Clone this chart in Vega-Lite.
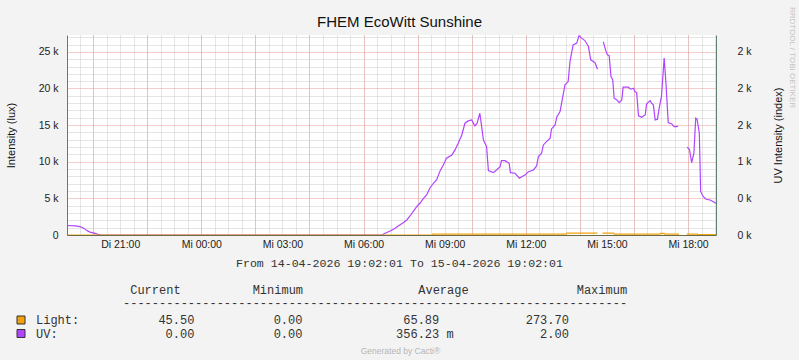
{
  "$schema": "https://vega.github.io/schema/vega-lite/v6.json",
  "width": 649,
  "height": 200,
  "autosize": {"type": "none"},
  "padding": {"left": 67, "top": 35, "right": 83, "bottom": 125},
  "background": "#F3F3F3",
  "title": {"text": "FHEM EcoWitt Sunshine", "font": "Liberation Sans", "fontSize": 15, "fontWeight": "normal", "color": "#111111", "anchor": "middle", "frame": "group", "dx": 8, "dy": 43, "offset": 7, "baseline": "alphabetic"},
  "config": {"view": {"fill": "white", "stroke": null}},
  "data": {"values": [
    {"t":"2026-04-14T19:02","s":"UV","v":1300},
    {"t":"2026-04-14T19:20","s":"UV","v":1250},
    {"t":"2026-04-14T19:31","s":"UV","v":1150},
    {"t":"2026-04-14T19:40","s":"UV","v":900},
    {"t":"2026-04-14T19:46","s":"UV","v":600},
    {"t":"2026-04-14T19:53","s":"UV","v":400},
    {"t":"2026-04-14T20:02","s":"UV","v":250},
    {"t":"2026-04-14T20:11","s":"UV","v":80},
    {"t":"2026-04-14T20:17","s":"UV","v":0},
    {"t":"2026-04-15T06:40","s":"UV","v":0},
    {"t":"2026-04-15T06:48","s":"UV","v":232},
    {"t":"2026-04-15T06:59","s":"UV","v":546},
    {"t":"2026-04-15T07:10","s":"UV","v":915},
    {"t":"2026-04-15T07:17","s":"UV","v":1229},
    {"t":"2026-04-15T07:28","s":"UV","v":1680},
    {"t":"2026-04-15T07:36","s":"UV","v":2049},
    {"t":"2026-04-15T07:43","s":"UV","v":2595},
    {"t":"2026-04-15T07:50","s":"UV","v":3183},
    {"t":"2026-04-15T07:58","s":"UV","v":3866},
    {"t":"2026-04-15T08:05","s":"UV","v":4330},
    {"t":"2026-04-15T08:13","s":"UV","v":5013},
    {"t":"2026-04-15T08:20","s":"UV","v":5464},
    {"t":"2026-04-15T08:27","s":"UV","v":6379},
    {"t":"2026-04-15T08:35","s":"UV","v":7062},
    {"t":"2026-04-15T08:42","s":"UV","v":7513},
    {"t":"2026-04-15T08:50","s":"UV","v":8783},
    {"t":"2026-04-15T08:57","s":"UV","v":9562},
    {"t":"2026-04-15T09:04","s":"UV","v":10477},
    {"t":"2026-04-15T09:16","s":"UV","v":10928},
    {"t":"2026-04-15T09:23","s":"UV","v":11611},
    {"t":"2026-04-15T09:30","s":"UV","v":12526},
    {"t":"2026-04-15T09:38","s":"UV","v":13660},
    {"t":"2026-04-15T09:45","s":"UV","v":15258},
    {"t":"2026-04-15T09:52","s":"UV","v":15572},
    {"t":"2026-04-15T10:00","s":"UV","v":15709},
    {"t":"2026-04-15T10:07","s":"UV","v":14889},
    {"t":"2026-04-15T10:12","s":"UV","v":15258},
    {"t":"2026-04-15T10:18","s":"UV","v":16624},
    {"t":"2026-04-15T10:26","s":"UV","v":12977},
    {"t":"2026-04-15T10:33","s":"UV","v":12062},
    {"t":"2026-04-15T10:37","s":"UV","v":8783},
    {"t":"2026-04-15T10:48","s":"UV","v":8510},
    {"t":"2026-04-15T10:55","s":"UV","v":8879},
    {"t":"2026-04-15T11:03","s":"UV","v":9330},
    {"t":"2026-04-15T11:06","s":"UV","v":10150},
    {"t":"2026-04-15T11:14","s":"UV","v":10150},
    {"t":"2026-04-15T11:23","s":"UV","v":9794},
    {"t":"2026-04-15T11:26","s":"UV","v":8510},
    {"t":"2026-04-15T11:36","s":"UV","v":8428},
    {"t":"2026-04-15T11:46","s":"UV","v":7745},
    {"t":"2026-04-15T11:51","s":"UV","v":7964},
    {"t":"2026-04-15T11:58","s":"UV","v":8196},
    {"t":"2026-04-15T12:06","s":"UV","v":8647},
    {"t":"2026-04-15T12:17","s":"UV","v":8879},
    {"t":"2026-04-15T12:24","s":"UV","v":9425},
    {"t":"2026-04-15T12:28","s":"UV","v":10696},
    {"t":"2026-04-15T12:35","s":"UV","v":11160},
    {"t":"2026-04-15T12:39","s":"UV","v":12294},
    {"t":"2026-04-15T12:46","s":"UV","v":12745},
    {"t":"2026-04-15T12:54","s":"UV","v":13209},
    {"t":"2026-04-15T12:57","s":"UV","v":14480},
    {"t":"2026-04-15T13:05","s":"UV","v":15026},
    {"t":"2026-04-15T13:09","s":"UV","v":16160},
    {"t":"2026-04-15T13:16","s":"UV","v":16843},
    {"t":"2026-04-15T13:20","s":"UV","v":18209},
    {"t":"2026-04-15T13:27","s":"UV","v":20490},
    {"t":"2026-04-15T13:34","s":"UV","v":20941},
    {"t":"2026-04-15T13:38","s":"UV","v":23673},
    {"t":"2026-04-15T13:45","s":"UV","v":25954},
    {"t":"2026-04-15T13:53","s":"UV","v":26186},
    {"t":"2026-04-15T13:58","s":"UV","v":27183},
    {"t":"2026-04-15T14:04","s":"UV","v":26870},
    {"t":"2026-04-15T14:11","s":"UV","v":26541},
    {"t":"2026-04-15T14:19","s":"UV","v":25722},
    {"t":"2026-04-15T14:24","s":"UV","v":23905},
    {"t":"2026-04-15T14:30","s":"UV","v":23673},
    {"t":"2026-04-15T14:34","s":"UV","v":23454},
    {"t":"2026-04-15T14:39","s":"UV","v":22634},
    {"t":"2026-04-15T14:45","s":"UV","v":null},
    {"t":"2026-04-15T14:52","s":"UV","v":26364},
    {"t":"2026-04-15T14:57","s":"UV","v":25271},
    {"t":"2026-04-15T15:01","s":"UV","v":24588},
    {"t":"2026-04-15T15:05","s":"UV","v":24492},
    {"t":"2026-04-15T15:09","s":"UV","v":21624},
    {"t":"2026-04-15T15:13","s":"UV","v":21173},
    {"t":"2026-04-15T15:16","s":"UV","v":18673},
    {"t":"2026-04-15T15:22","s":"UV","v":18441},
    {"t":"2026-04-15T15:27","s":"UV","v":18072},
    {"t":"2026-04-15T15:33","s":"UV","v":18441},
    {"t":"2026-04-15T15:36","s":"UV","v":20176},
    {"t":"2026-04-15T15:47","s":"UV","v":20176},
    {"t":"2026-04-15T15:53","s":"UV","v":19903},
    {"t":"2026-04-15T15:59","s":"UV","v":20040},
    {"t":"2026-04-15T16:02","s":"UV","v":19575},
    {"t":"2026-04-15T16:06","s":"UV","v":19438},
    {"t":"2026-04-15T16:10","s":"UV","v":16255},
    {"t":"2026-04-15T16:17","s":"UV","v":16078},
    {"t":"2026-04-15T16:21","s":"UV","v":16255},
    {"t":"2026-04-15T16:25","s":"UV","v":16392},
    {"t":"2026-04-15T16:28","s":"UV","v":17895},
    {"t":"2026-04-15T16:36","s":"UV","v":18345},
    {"t":"2026-04-15T16:39","s":"UV","v":17990},
    {"t":"2026-04-15T16:43","s":"UV","v":17758},
    {"t":"2026-04-15T16:47","s":"UV","v":15709},
    {"t":"2026-04-15T16:52","s":"UV","v":15805},
    {"t":"2026-04-15T16:56","s":"UV","v":17307},
    {"t":"2026-04-15T17:01","s":"UV","v":18892},
    {"t":"2026-04-15T17:07","s":"UV","v":24138},
    {"t":"2026-04-15T17:11","s":"UV","v":20722},
    {"t":"2026-04-15T17:16","s":"UV","v":15340},
    {"t":"2026-04-15T17:24","s":"UV","v":15163},
    {"t":"2026-04-15T17:29","s":"UV","v":14794},
    {"t":"2026-04-15T17:35","s":"UV","v":14794},
    {"t":"2026-04-15T17:38","s":"UV","v":14889},
    {"t":"2026-04-15T17:45","s":"UV","v":null},
    {"t":"2026-04-15T17:58","s":"UV","v":11980},
    {"t":"2026-04-15T18:03","s":"UV","v":11707},
    {"t":"2026-04-15T18:08","s":"UV","v":9876},
    {"t":"2026-04-15T18:13","s":"UV","v":11160},
    {"t":"2026-04-15T18:17","s":"UV","v":15941},
    {"t":"2026-04-15T18:20","s":"UV","v":15805},
    {"t":"2026-04-15T18:25","s":"UV","v":13892},
    {"t":"2026-04-15T18:28","s":"UV","v":5915},
    {"t":"2026-04-15T18:34","s":"UV","v":5232},
    {"t":"2026-04-15T18:40","s":"UV","v":4877},
    {"t":"2026-04-15T18:49","s":"UV","v":4781},
    {"t":"2026-04-15T18:56","s":"UV","v":4549},
    {"t":"2026-04-15T19:02","s":"UV","v":4330},
    {"t":"2026-04-14T19:02","s":"Light","v":0},
    {"t":"2026-04-15T08:32","s":"Light","v":0},
    {"t":"2026-04-15T08:33","s":"Light","v":110},
    {"t":"2026-04-15T13:30","s":"Light","v":110},
    {"t":"2026-04-15T13:31","s":"Light","v":260},
    {"t":"2026-04-15T14:39","s":"Light","v":260},
    {"t":"2026-04-15T14:45","s":"Light","v":null},
    {"t":"2026-04-15T14:50","s":"Light","v":260},
    {"t":"2026-04-15T15:15","s":"Light","v":260},
    {"t":"2026-04-15T15:16","s":"Light","v":110},
    {"t":"2026-04-15T16:58","s":"Light","v":110},
    {"t":"2026-04-15T16:59","s":"Light","v":220},
    {"t":"2026-04-15T17:07","s":"Light","v":220},
    {"t":"2026-04-15T17:08","s":"Light","v":110},
    {"t":"2026-04-15T17:40","s":"Light","v":110},
    {"t":"2026-04-15T17:45","s":"Light","v":null},
    {"t":"2026-04-15T17:57","s":"Light","v":110},
    {"t":"2026-04-15T18:21","s":"Light","v":110},
    {"t":"2026-04-15T18:22","s":"Light","v":45},
    {"t":"2026-04-15T19:02","s":"Light","v":45}
  ]},
  "layer": [
    {
      "mark": {"type": "point", "opacity": 0},
      "encoding": {
        "x": {"field": "t", "type": "temporal",
          "scale": {"domain": [{"year":2026,"month":4,"date":14,"hours":19,"minutes":2,"seconds":1},{"year":2026,"month":4,"date":15,"hours":19,"minutes":2,"seconds":1}], "nice": false},
          "axis": {"orient": "bottom", "grid": true, "gridColor": "#CACACA", "gridDash": [1, 1], "tickCount": 48, "labels": false, "ticks": false, "domain": false, "title": null}},
        "y": {"field": "v", "type": "quantitative", "scale": {"domain": [0, 27300], "nice": false},
          "axis": {"orient": "left", "grid": true, "gridColor": "#CACACA", "gridDash": [1, 1], "values": [1000,2000,3000,4000,6000,7000,8000,9000,11000,12000,13000,14000,16000,17000,18000,19000,21000,22000,23000,24000,26000,27000], "labels": false, "ticks": false, "domain": false, "title": null}}
      }
    },
    {
      "mark": {"type": "point", "opacity": 0},
      "encoding": {
        "x": {"field": "t", "type": "temporal",
          "scale": {"domain": [{"year":2026,"month":4,"date":14,"hours":19,"minutes":2,"seconds":1},{"year":2026,"month":4,"date":15,"hours":19,"minutes":2,"seconds":1}], "nice": false},
          "axis": {"orient": "bottom", "grid": true, "gridColor": "#EC9A9A", "gridDash": [1, 1],
            "values": [{"year":2026,"month":4,"date":14,"hours":20},{"year":2026,"month":4,"date":14,"hours":22},{"year":2026,"month":4,"date":15,"hours":0},{"year":2026,"month":4,"date":15,"hours":2},{"year":2026,"month":4,"date":15,"hours":4},{"year":2026,"month":4,"date":15,"hours":6},{"year":2026,"month":4,"date":15,"hours":8},{"year":2026,"month":4,"date":15,"hours":10},{"year":2026,"month":4,"date":15,"hours":12},{"year":2026,"month":4,"date":15,"hours":14},{"year":2026,"month":4,"date":15,"hours":16},{"year":2026,"month":4,"date":15,"hours":18}],
            "labels": false, "ticks": false, "domain": false, "title": null}},
        "y": {"field": "v", "type": "quantitative", "scale": {"domain": [0, 27300], "nice": false},
          "axis": {"orient": "left", "grid": true, "gridColor": "#EC9A9A", "gridDash": [1, 1], "values": [5000,10000,15000,20000,25000], "labels": false, "ticks": false, "domain": false, "title": null}}
      }
    },
    {
      "mark": {"type": "line", "strokeWidth": 1.2},
      "encoding": {
        "x": {"field": "t", "type": "temporal",
          "scale": {"domain": [{"year":2026,"month":4,"date":14,"hours":19,"minutes":2,"seconds":1},{"year":2026,"month":4,"date":15,"hours":19,"minutes":2,"seconds":1}], "nice": false},
          "axis": {"orient": "bottom", "tickCount": 8, "labelExpr": "(day(datum.value) == 2 ? 'Di ' : 'Mi ') + timeFormat(datum.value, '%H:%M')", "labelFont": "Liberation Sans", "labelFontSize": 10.5, "labelColor": "#222222", "labelPadding": 4, "labelFlush": false, "labelOverlap": false, "ticks": false, "grid": false, "domain": true, "domainColor": "#6B6B45", "title": "From 14-04-2026 19:02:01 To 15-04-2026 19:02:01", "titleFont": "Liberation Mono", "titleFontSize": 11.6, "titleFontWeight": "normal", "titleColor": "#333333", "titleX": 332, "titleY": 31, "titleAlign": "center", "titleBaseline": "alphabetic", "zindex": 1}},
        "y": {"field": "v", "type": "quantitative", "scale": {"domain": [0, 27300], "nice": false},
          "axis": {"orient": "left", "values": [0,5000,10000,15000,20000,25000], "labelExpr": "datum.value == 0 ? '0' : (datum.value / 1000) + ' k'", "labelFont": "Liberation Sans", "labelFontSize": 10.5, "labelColor": "#222222", "labelPadding": 9, "ticks": false, "grid": false, "domain": true, "domainColor": "#5E7F74", "title": "Intensity (lux)", "titleFont": "Liberation Sans", "titleFontSize": 11, "titleFontWeight": "normal", "titleColor": "#111111", "titleAngle": 270, "titleX": -56, "titleY": 100, "titleAlign": "center", "titleBaseline": "middle", "zindex": 1}},
        "color": {"field": "s", "type": "nominal",
          "scale": {"range": ["#F0A10F", "#B044FF"]},
          "legend": null}
      }
    },
    {
      "transform": [{"filter": "datum.v < 0"}],
      "mark": {"type": "square", "filled": true, "opacity": 1, "stroke": "#333333", "strokeWidth": 1},
      "encoding": {
        "x": {"field": "t", "type": "temporal", "axis": null},
        "y": {"field": "v", "type": "quantitative", "axis": null},
        "fill": {"field": "s", "type": "nominal",
          "scale": {"domain": ["Light", "UV"], "range": ["#F0A10F", "#B044FF"]},
          "legend": {
            "orient": "none", "legendX": -52, "legendY": 250, "padding": 0,
            "title": ["\u200b\u00a0\u00a0\u00a0\u00a0\u00a0\u00a0\u00a0\u00a0\u00a0\u00a0\u00a0\u00a0\u00a0\u00a0\u00a0\u00a0Current\u00a0\u00a0\u00a0\u00a0\u00a0\u00a0\u00a0\u00a0\u00a0\u00a0Minimum\u00a0\u00a0\u00a0\u00a0\u00a0\u00a0\u00a0\u00a0\u00a0\u00a0\u00a0\u00a0\u00a0\u00a0\u00a0\u00a0Average\u00a0\u00a0\u00a0\u00a0\u00a0\u00a0\u00a0\u00a0\u00a0\u00a0\u00a0\u00a0\u00a0\u00a0\u00a0Maximum", "\u200b\u00a0\u00a0\u00a0\u00a0\u00a0\u00a0\u00a0\u00a0\u00a0\u00a0\u00a0\u00a0\u00a0\u00a0\u00a0----------------------------------------------------------------------"],
            "titleFont": "Liberation Mono", "titleFontSize": 12, "titleFontWeight": "normal", "titleColor": "#333333", "titleLineHeight": 13, "titlePadding": 4, "titleLimit": 1000,
            "labelFont": "Liberation Mono", "labelFontSize": 12, "labelColor": "#333333", "labelLimit": 1000, "labelOffset": 9,
            "labelExpr": "datum.label == 'Light' ? 'Light:\u00a0\u00a0\u00a0\u00a0\u00a0\u00a0\u00a0\u00a0\u00a0\u00a0\u00a045.50\u00a0\u00a0\u00a0\u00a0\u00a0\u00a0\u00a0\u00a0\u00a0\u00a0\u00a00.00\u00a0\u00a0\u00a0\u00a0\u00a0\u00a0\u00a0\u00a0\u00a0\u00a0\u00a0\u00a0\u00a0\u00a065.89\u00a0\u00a0\u00a0\u00a0\u00a0\u00a0\u00a0\u00a0\u00a0\u00a0\u00a0\u00a0273.70' : 'UV:\u00a0\u00a0\u00a0\u00a0\u00a0\u00a0\u00a0\u00a0\u00a0\u00a0\u00a0\u00a0\u00a0\u00a0\u00a00.00\u00a0\u00a0\u00a0\u00a0\u00a0\u00a0\u00a0\u00a0\u00a0\u00a0\u00a00.00\u00a0\u00a0\u00a0\u00a0\u00a0\u00a0\u00a0\u00a0\u00a0\u00a0\u00a0\u00a0\u00a0356.23\u00a0m\u00a0\u00a0\u00a0\u00a0\u00a0\u00a0\u00a0\u00a0\u00a0\u00a0\u00a0\u00a02.00'",
            "symbolType": "square", "symbolSize": 64, "rowPadding": 1.5, "symbolStrokeColor": "#333333", "symbolStrokeWidth": 1, "symbolOpacity": 1
          }}
      }
    },
    {
      "mark": {"type": "point", "opacity": 0},
      "encoding": {
        "x": {"field": "t", "type": "temporal",
          "scale": {"domain": [{"year":2026,"month":4,"date":14,"hours":19,"minutes":2,"seconds":1},{"year":2026,"month":4,"date":15,"hours":19,"minutes":2,"seconds":1}], "nice": false},
          "axis": null},
        "y": {"field": "v", "type": "quantitative", "scale": {"domain": [0, 27300], "nice": false},
          "axis": {"orient": "right", "values": [0,5000,10000,15000,20000,25000], "labelExpr": "datum.value < 10000 ? '0 k' : (datum.value < 15000 ? '1 k' : '2 k')", "labelFont": "Liberation Sans", "labelFontSize": 10.5, "labelColor": "#222222", "labelPadding": 21, "ticks": false, "grid": false, "domain": true, "domainColor": "#5E7F74", "title": "UV Intensity (index)", "titleFont": "Liberation Sans", "titleFontSize": 11, "titleFontWeight": "normal", "titleColor": "#111111", "titleAngle": 270, "titleX": 62, "titleY": 100, "titleAlign": "center", "titleBaseline": "middle", "zindex": 1}}
      }
    },
    {
      "mark": {"type": "point", "opacity": 0},
      "encoding": {
        "x": {"field": "t", "type": "temporal",
          "scale": {"domain": [{"year":2026,"month":4,"date":14,"hours":19,"minutes":2,"seconds":1},{"year":2026,"month":4,"date":15,"hours":19,"minutes":2,"seconds":1}], "nice": false},
          "axis": {"orient": "bottom", "labels": false, "ticks": false, "domain": false, "grid": false, "title": "Generated by Cacti\u00ae", "titleFont": "Liberation Sans", "titleFontSize": 8.5, "titleFontWeight": "normal", "titleColor": "#B5B5B5", "titleX": 333, "titleY": 118, "titleAlign": "center", "titleBaseline": "alphabetic"}},
        "y": {"field": "v", "type": "quantitative", "scale": {"domain": [0, 27300], "nice": false},
          "axis": {"orient": "right", "labels": false, "ticks": false, "domain": false, "grid": false, "title": "RRDTOOL / TOBI OETIKER", "titleFont": "Liberation Sans", "titleFontSize": 8, "titleFontWeight": "normal", "titleColor": "#C4C4C4", "titleAngle": 90, "titleX": 75.5, "titleY": 22, "titleAlign": "center", "titleBaseline": "middle"}}
      }
    }
  ],
  "resolve": {"axis": {"x": "independent", "y": "independent"}}
}
